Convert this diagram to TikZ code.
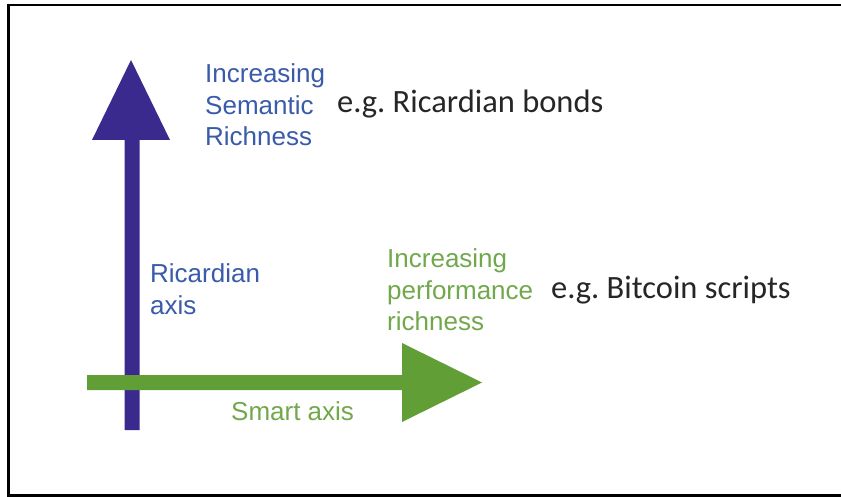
\documentclass[tikz,border=0pt]{standalone}
\usepackage{fontspec}
\setmainfont{Liberation Sans}
\newfontfamily\calibfont{Carlito}
\definecolor{ricblue}{HTML}{3A2A8E}
\definecolor{ricbluetext}{HTML}{3A5BAA}
\definecolor{smartgreen}{HTML}{629E36}
\definecolor{smartgreentext}{HTML}{72A84C}
\tikzset{
  axislabel/.style={anchor=west, inner sep=0pt, align=left, font=\fontsize{26}{31.5}\selectfont},
  example/.style={anchor=west, inner sep=0pt, text=black!85, font=\calibfont\fontsize{32.5}{38}\selectfont\frenchspacing},
}
\begin{document}
\begin{tikzpicture}[x=1pt,y=-1pt]
\useasboundingbox (0,0) rectangle (841,497);
\fill[white] (0,0) rectangle (841,497);
\draw[line width=2.6pt] (841,5) -- (8.5,5) -- (8.5,495.5) -- (841,495.5);
% Ricardian (vertical) arrow
\fill[ricblue] (124.5,430) -- (124.5,140) -- (92,140) -- (131,60) -- (170,140) -- (139.5,140) -- (139.5,430) -- cycle;
% Smart (horizontal) arrow
\fill[smartgreen] (87,375) -- (402,375) -- (402,343) -- (482,382.5) -- (402,422) -- (402,390) -- (87,390) -- cycle;
% labels
\node[axislabel, text=ricbluetext] (sem) at (205,105) {Increasing\\Semantic\\Richness};
\node[example] (ricex) at (337,104) {e.g. Ricardian bonds};
\node[axislabel, text=ricbluetext] (ricaxis) at (150,289) {Ricardian\\axis};
\node[axislabel, text=smartgreentext] (perf) at (387,290) {Increasing\\performance\\richness};
\node[example] (btcex) at (551,290) {e.g. Bitcoin scripts};
\node[axislabel, text=smartgreentext] (smartaxis) at (231,411) {Smart axis};
\end{tikzpicture}
\end{document}
